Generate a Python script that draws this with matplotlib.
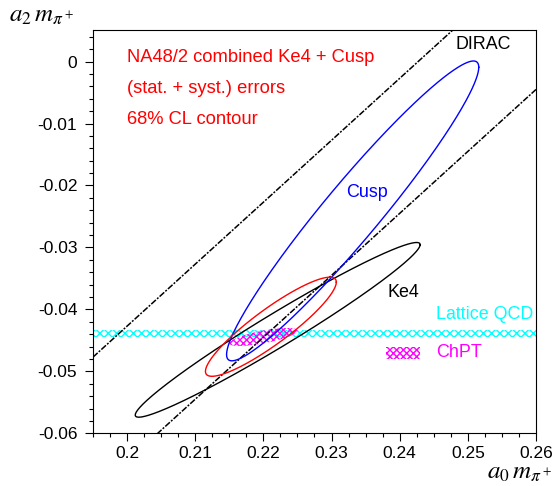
import numpy as np
import matplotlib
matplotlib.use("Agg")
import matplotlib.pyplot as plt
from matplotlib.patches import Rectangle, Polygon
from matplotlib.ticker import MultipleLocator, FuncFormatter

plt.rcParams['font.family'] = ['Liberation Sans', 'DejaVu Sans']
plt.rcParams['mathtext.fontset'] = 'stix'
plt.rcParams['hatch.linewidth'] = 1.0
plt.rcParams['lines.scale_dashes'] = False

# 68% CL contours: centre (a0, a2), half-extent along a0 and a2, correlation
contour_names = ["Ke4", "Cusp", "Combined"]
contour_a0 = [0.2221, 0.2331, 0.2211]
contour_a2 = [-0.0433, -0.0241, -0.0428]
contour_da0 = [0.0209, 0.0185, 0.0096]
contour_da2 = [0.0141, 0.0242, 0.0080]
contour_rho = [0.975, 0.958, 0.90]
contour_colors = ["black", "blue", "red"]

# DIRAC band limits on a0 - a2
dirac_a0_minus_a2 = [0.2427, 0.2645]

# Lattice QCD a2 band
lattice_a2 = -0.0439
lattice_da2 = 0.0005

# ChPT prediction
chpt_a0 = 0.2200
chpt_a2 = -0.04445
chpt_da0 = 0.0050
chpt_da2 = 0.00145
chpt_rho = 0.70

x_ticks = [0.20, 0.21, 0.22, 0.23, 0.24, 0.25, 0.26]
y_ticks = [0.0, -0.01, -0.02, -0.03, -0.04, -0.05, -0.06]
x_range = (0.195, 0.26)
y_range = (-0.06, 0.0051)


def ellipse_curve(cx, cy, dx, dy, rho, n=500):
    t = np.linspace(0, 2 * np.pi, n)
    x = cx + dx * np.cos(t)
    y = cy + dy * (rho * np.cos(t) + np.sqrt(1 - rho ** 2) * np.sin(t))
    return x, y


fig = plt.figure(figsize=(5.55, 4.86), dpi=100)
ax = fig.add_axes([93 / 555, 1 - 433.3 / 486, (536 - 93) / 555, (433.3 - 30) / 486])
ax.set_xlim(*x_range)
ax.set_ylim(*y_range)

# Lattice QCD band
ax.add_patch(Rectangle((x_range[0], lattice_a2 - lattice_da2), x_range[1] - x_range[0],
                       2 * lattice_da2, facecolor='none', edgecolor='#00ffff',
                       hatch='xxxx', linewidth=0, zorder=1))

# ChPT prediction region
cxs, cys = ellipse_curve(chpt_a0, chpt_a2, chpt_da0, chpt_da2, chpt_rho)
ax.add_patch(Polygon(np.column_stack([cxs, cys]), closed=True, facecolor='none',
                     edgecolor='#ff00ff', hatch='xxxxx', linewidth=0, zorder=2))

# DIRAC lines a2 = a0 - c
xs = np.array(x_range)
for c in dirac_a0_minus_a2:
    ax.plot(xs, xs - c, color='black', lw=1.1, linestyle=(0, (4.5, 1.1, 1.4, 1.1)), zorder=3)

# NA48/2 contours
for cx, cy, dx, dy, rho, col in zip(contour_a0, contour_a2, contour_da0, contour_da2,
                                     contour_rho, contour_colors):
    ex, ey = ellipse_curve(cx, cy, dx, dy, rho)
    ax.plot(ex, ey, color=col, lw=1.0, zorder=4)

# Labels inside the frame
ax.text(0.2, 0.0, "NA48/2 combined Ke4 + Cusp", color='#ff0000', fontsize=13.2, va='baseline')
ax.text(0.2, -0.005, "(stat. + syst.) errors", color='#ff0000', fontsize=13.2, va='baseline')
ax.text(0.2, -0.010, "68% CL contour", color='#ff0000', fontsize=13.2, va='baseline')
ax.text(0.2482, 0.0020, "DIRAC", color='black', fontsize=12.9, va='baseline')
ax.text(0.2322, -0.0218, "Cusp", color='blue', fontsize=12.9, va='baseline')
ax.text(0.2382, -0.0380, "Ke4", color='black', fontsize=12.9, va='baseline')
ax.text(0.2453, -0.0416, "Lattice QCD", color='#00ffff', fontsize=12.9, va='baseline')
ax.text(0.2453, -0.0477, "ChPT", color='#ff00ff', fontsize=12.9, va='baseline')

# ChPT legend swatch
ax.add_patch(Rectangle((0.238, -0.048), 0.005, 0.002, facecolor='none',
                       edgecolor='#ff00ff', hatch='xxxxx', linewidth=0, zorder=2))

# Axes styling
ax.set_xticks(x_ticks)
ax.set_yticks(y_ticks)
ax.xaxis.set_minor_locator(MultipleLocator(0.0025))
ax.yaxis.set_minor_locator(MultipleLocator(0.002))
fmt = FuncFormatter(lambda v, p: ("%g" % round(v, 4)).replace('\u2212', '-'))
ax.xaxis.set_major_formatter(fmt)
ax.yaxis.set_major_formatter(fmt)
ax.tick_params(which='both', direction='out', width=0.8, labelsize=12.5, top=False, right=False)
ax.tick_params(which='major', length=5.5)
ax.tick_params(which='minor', length=3)
ax.tick_params(axis='y', pad=5.8)
ax.tick_params(axis='x', pad=4)
for s in ax.spines.values():
    s.set_linewidth(0.8)

fig.text(9 / 555, 1 - 22 / 486, r"$a_2\,m_{\pi^+}$", fontsize=18, va='baseline', ha='left')
fig.text(552 / 555, 1 - 479 / 486, r"$a_0\,m_{\pi^+}$", fontsize=18, va='baseline', ha='right')

fig.savefig("out.png", dpi=100)
